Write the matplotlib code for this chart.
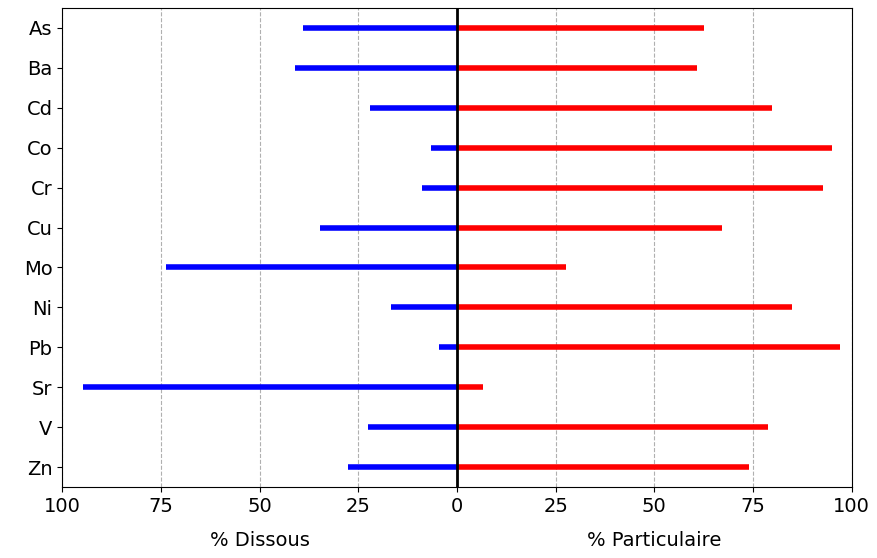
import matplotlib.pyplot as plt
import numpy as np

elements = ["As", "Ba", "Cd", "Co", "Cr", "Cu", "Mo", "Ni", "Pb", "Sr", "V", "Zn"]
dissous = [39, 41, 22, 6.6, 8.9, 34.7, 73.7, 16.7, 4.6, 94.7, 22.5, 27.6]
particulaire = [62.5, 60.8, 79.7, 94.9, 92.7, 67.1, 27.6, 84.8, 97, 6.6, 78.7, 73.9]

y = np.arange(len(elements))[::-1]

fig, ax = plt.subplots(figsize=(8.78, 5.58), dpi=100)
fig.subplots_adjust(left=0.071, right=0.970, top=0.986, bottom=0.127)

ax.hlines(y, [-d for d in dissous], 0, color="blue", lw=4)
ax.hlines(y, 0, particulaire, color="red", lw=4)
ax.axvline(0, color="black", lw=2)

ax.set_xlim(-100, 100)
ax.set_ylim(-0.5, len(elements) - 0.5)
ax.set_yticks(y)
ax.set_yticklabels(elements, fontsize=14)
ticks = [-100, -75, -50, -25, 0, 25, 50, 75, 100]
ax.set_xticks(ticks)
ax.set_xticklabels([str(abs(t)) for t in ticks], fontsize=14)
ax.xaxis.grid(True, linestyle="--", color="#b0b0b0")
ax.set_axisbelow(True)

ax.text(-50, -0.092, "% Dissous", transform=ax.get_xaxis_transform(),
        ha="center", va="top", fontsize=14)
ax.text(50, -0.092, "% Particulaire", transform=ax.get_xaxis_transform(),
        ha="center", va="top", fontsize=14)

plt.savefig("out.png")
